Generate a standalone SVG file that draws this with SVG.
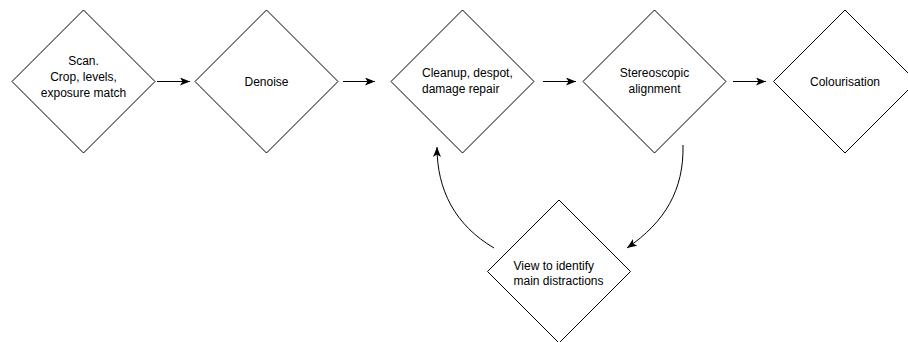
<svg xmlns="http://www.w3.org/2000/svg" width="908" height="342" viewBox="0 0 908 342">
<style>
.shape{fill:#ffffff;stroke:#000000;stroke-width:1}
.edge{fill:none;stroke:#000000;stroke-width:1}
.lbl{font-family:"Liberation Sans",Arial,Helvetica,sans-serif;font-size:12px;fill:#000000}
.c{text-anchor:middle}
</style>
<defs>
<marker id="arr" viewBox="0 0 10 8" refX="10" refY="4" markerWidth="10" markerHeight="8" markerUnits="userSpaceOnUse" orient="auto">
<path d="M0,0 L10,4 L0,8 L2.5,4 Z" fill="#000000"/>
</marker>
</defs>
<rect width="908" height="342" fill="#ffffff"/>
<g id="connectors">
<path class="edge" d="M157,81.5 L190,81.5" marker-end="url(#arr)"/>
<path class="edge" d="M343,81.5 L375,81.5" marker-end="url(#arr)"/>
<path class="edge" d="M543,81.5 L576,81.5" marker-end="url(#arr)"/>
<path class="edge" d="M733,81.5 L766,81.5" marker-end="url(#arr)"/>
<path class="edge" d="M494,248 C455,225 437,190 437,147" marker-end="url(#arr)"/>
<path class="edge" d="M683,145 C684,190 665,222 627,248" marker-end="url(#arr)"/>
</g>
<g id="scan">
<polygon class="shape" points="83.5,10 155,81.5 83.5,153 12,81.5"/>
<text class="lbl c" x="83.5" y="65">Scan.</text>
<text class="lbl c" x="83.5" y="81">Crop, levels,</text>
<text class="lbl c" x="83.5" y="97">exposure match</text>
</g>
<g id="denoise">
<polygon class="shape" points="266.5,10 338,81.5 266.5,153 195,81.5"/>
<text class="lbl c" x="266.5" y="86">Denoise</text>
</g>
<g id="cleanup">
<polygon class="shape" points="462.5,10 534,81.5 462.5,153 391,81.5"/>
<text class="lbl" x="422" y="77">Cleanup, despot,</text>
<text class="lbl" x="422" y="93">damage repair</text>
</g>
<g id="stereo">
<polygon class="shape" points="654.5,10 726,81.5 654.5,153 583,81.5"/>
<text class="lbl c" x="654.5" y="77">Stereoscopic</text>
<text class="lbl c" x="654.5" y="93">alignment</text>
</g>
<g id="colourisation">
<polygon class="shape" points="845,10 916.5,81.5 845,153 773.5,81.5"/>
<text class="lbl c" x="845" y="86">Colourisation</text>
</g>
<g id="view">
<polygon class="shape" points="559,200 630.5,271.5 559,343 487.5,271.5"/>
<text class="lbl" x="513.5" y="269.5">View to identify</text>
<text class="lbl" x="513.5" y="285">main distractions</text>
</g>
</svg>
